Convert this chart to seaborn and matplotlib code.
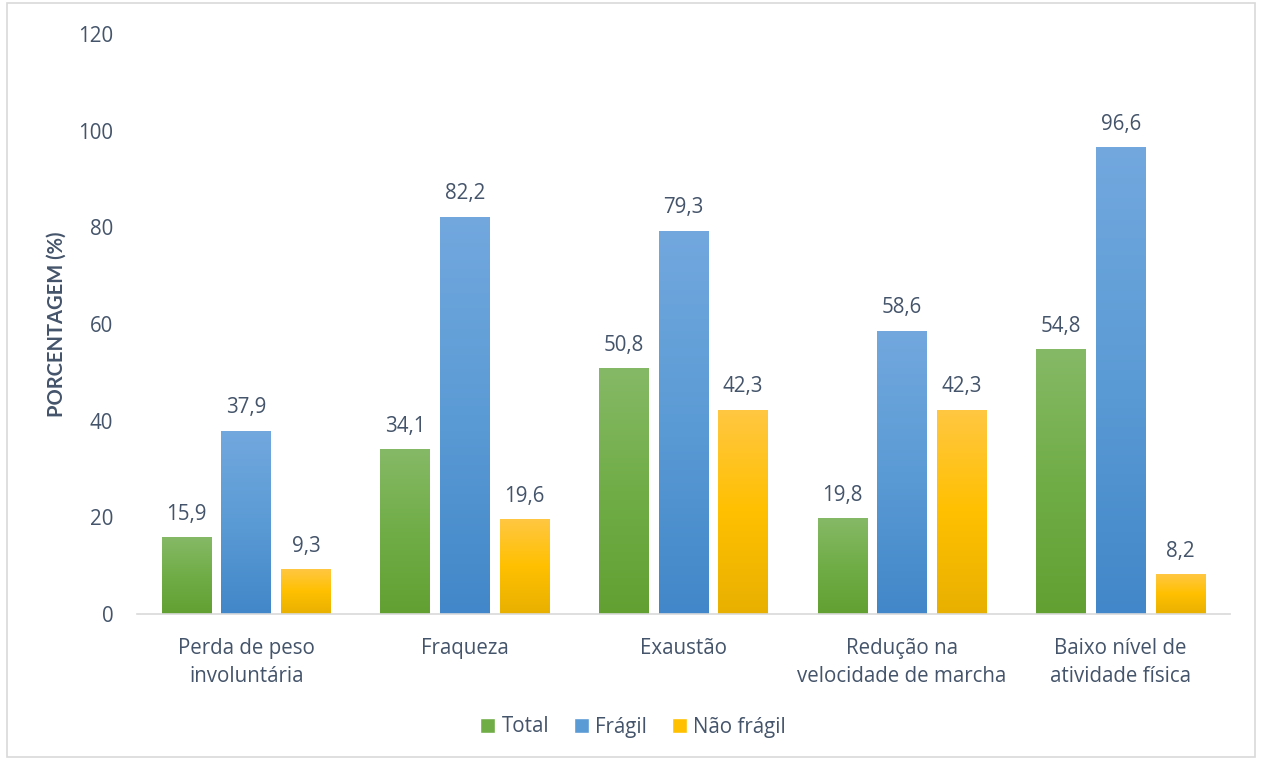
import numpy as np
import pandas as pd
import matplotlib
matplotlib.use("Agg")
import matplotlib.pyplot as plt
import seaborn as sns
from matplotlib.patches import Rectangle
from matplotlib.colors import LinearSegmentedColormap

categories = ["Perda de peso\ninvoluntária", "Fraqueza", "Exaustão",
              "Redução na\nvelocidade de marcha", "Baixo nível de\natividade física"]
series = ["Total", "Frágil", "Não frágil"]
total = [15.9, 34.1, 50.8, 19.8, 54.8]
fragil = [37.9, 82.2, 79.3, 58.6, 96.6]
nao_fragil = [9.3, 19.6, 42.3, 42.3, 8.2]
yticks = [0, 20, 40, 60, 80, 100, 120]

sns.set_theme(style="white")
plt.rcParams['font.family'] = ['Open Sans', 'DejaVu Sans']
txt = "#44546a"
fs = 14.8

rows = []
for s, vals in zip(series, [total, fragil, nao_fragil]):
    for c, v in zip(categories, vals):
        rows.append({"cat": c, "serie": s, "val": v})
df = pd.DataFrame(rows)

base = {"Total": "#70ad47", "Frágil": "#5b9bd5", "Não frágil": "#ffc000"}
grads = {
    "Total": ["#86b966", "#70ad47", "#62a032"],
    "Frágil": ["#72a8de", "#5b9bd5", "#4287c9"],
    "Não frágil": ["#ffc742", "#ffc000", "#e8b000"],
}

fig = plt.figure(figsize=(12.61, 7.60), dpi=100)
ax = fig.add_axes([0.1086, 0.1921, 0.8668, 0.7632])
sns.barplot(data=df, x="cat", y="val", hue="serie", palette=base,
            width=0.82, gap=0.17, ax=ax, legend=True, saturation=1)

ax.set_ylim(0, 120)
ax.set_xlim(-0.5, 4.5)
ax.set_yticks(yticks)
ax.set_yticklabels([str(t) for t in yticks], fontsize=fs, color=txt)
ax.tick_params(axis='y', length=0, pad=17)
ax.tick_params(axis='x', length=0, pad=17)
for lab in ax.get_xticklabels():
    lab.set_fontsize(fs)
    lab.set_color(txt)
    lab.set_linespacing(1.45)
ax.set_xlabel("")
ax.set_ylabel("PORCENTAGEM (%)", fontsize=14.5, fontweight="bold", color=txt,
              labelpad=8, family=["Lato", "DejaVu Sans"])
for sp in ["top", "right", "left"]:
    ax.spines[sp].set_visible(False)
ax.spines["bottom"].set_color("#d9d9d9")
ax.spines["bottom"].set_linewidth(1.2)

# gradient fills + value labels
for container, s in zip(ax.containers, series):
    cmap = LinearSegmentedColormap.from_list(s, grads[s][::-1])
    for bar in container:
        x0, w, h = bar.get_x(), bar.get_width(), bar.get_height()
        grad = np.linspace(0, 1, 256).reshape(-1, 1)
        im = ax.imshow(grad, extent=[x0, x0 + w, 0, h], origin="lower",
                       cmap=cmap, aspect="auto", zorder=bar.get_zorder() + 0.1)
        im.set_clip_path(bar)
        ax.annotate(f"{h:.1f}".replace(".", ","), (x0 + w / 2, h),
                    xytext=(0, 9), textcoords="offset points",
                    ha="center", va="bottom", fontsize=fs, color=txt)
ax.set_xlim(-0.5, 4.5)
ax.set_ylim(0, 120)

handles, labels = ax.get_legend_handles_labels()
ax.get_legend().remove()
fig.legend(handles, labels, loc="center", bbox_to_anchor=(0.502, 1 - 727 / 760),
           ncol=3, frameon=False, fontsize=fs, handlelength=0.75, handleheight=0.75,
           handletextpad=0.3, columnspacing=1.2, labelcolor=txt)

fig.patches.append(Rectangle((7 / 1261, 3 / 760), 1248 / 1261, 754 / 760,
                             transform=fig.transFigure, fill=False,
                             edgecolor="#d9d9d9", linewidth=1.2))
fig.savefig("out.png", dpi=100)
